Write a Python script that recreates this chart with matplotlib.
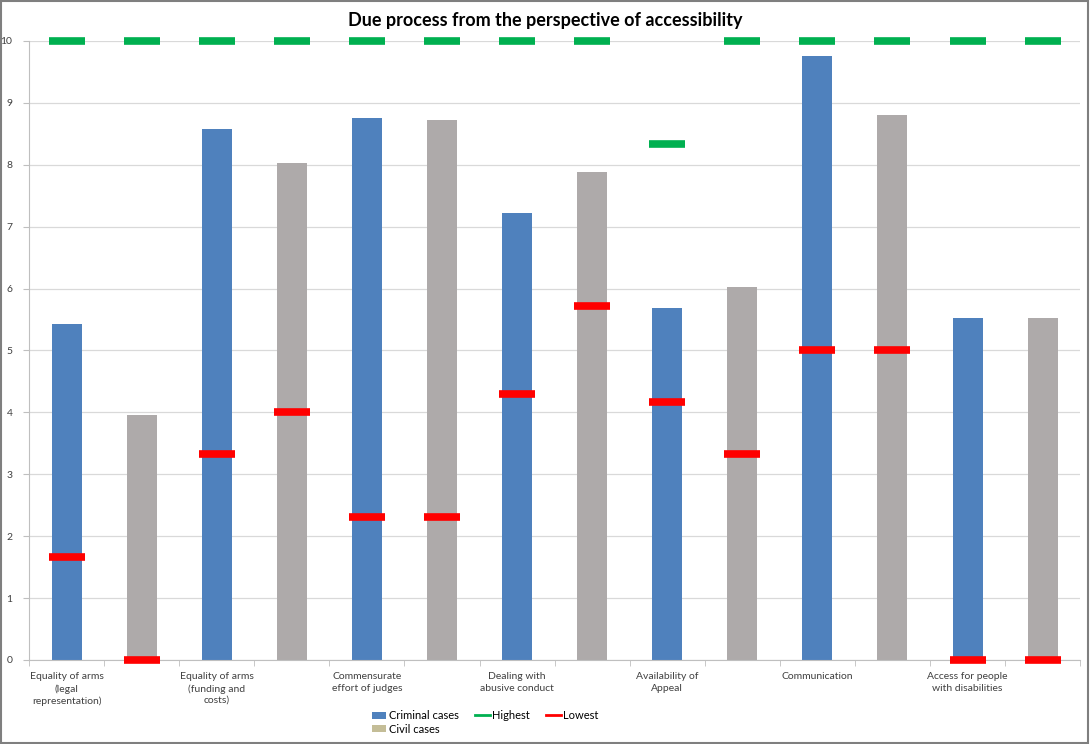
import matplotlib

matplotlib.use("Agg")

import matplotlib.pyplot as plt
from matplotlib.lines import Line2D
from matplotlib.patches import Patch, Rectangle


CATEGORIES = [
    "Equality of arms\n(legal\nrepresentation)",
    "Equality of arms\n(funding and\ncosts)",
    "Commensurate\neffort of judges",
    "Dealing with\nabusive conduct",
    "Availability of\nAppeal",
    "Communication",
    "Access for people\nwith disabilities",
]

CRIMINAL = [5.42, 8.58, 8.76, 7.22, 5.68, 9.76, 5.53]
CIVIL = [3.96, 8.03, 8.73, 7.89, 6.03, 8.81, 5.53]

# highest / lowest per slot, criminal then civil for each category
HIGHEST = [10, 10, 10, 10, 10, 10, 10, 10, 8.33, 10, 10, 10, 10, 10]
LOWEST = [1.67, 0, 3.33, 4.0, 2.31, 2.31, 4.29, 5.71, 4.17, 3.33, 5.0, 5.0, 0, 0]

BLUE = "#4f81bd"
GREY = "#aeaaaa"
GREEN = "#00b050"
RED = "#ff0000"


def main():
    plt.rcParams["font.family"] = ["Lato", "DejaVu Sans"]

    fig = plt.figure(figsize=(10.9, 7.44), dpi=100)
    ax = fig.add_axes([0.0266, 0.113, 0.9644, 0.832])

    n = len(CATEGORIES)
    crim_x = [2 * i for i in range(n)]
    civ_x = [2 * i + 1 for i in range(n)]
    slots = list(range(2 * n))

    ax.bar(crim_x, CRIMINAL, width=0.4, color=BLUE, zorder=2)
    ax.bar(civ_x, CIVIL, width=0.4, color=GREY, zorder=2)

    ax.plot(slots, HIGHEST, linestyle="none", marker="_", markersize=26,
            markeredgewidth=5.5, color=GREEN, zorder=3, clip_on=False)
    ax.plot(slots, LOWEST, linestyle="none", marker="_", markersize=26,
            markeredgewidth=5.5, color=RED, zorder=3, clip_on=False)

    ax.set_xlim(-0.5, 2 * n - 0.5)
    ax.set_ylim(0, 10)
    ax.set_yticks(range(0, 11))
    ax.tick_params(axis="y", length=4, labelsize=7.5, pad=8,
                   labelcolor="#404040", color="#bfbfbf")

    ax.set_xticks(crim_x)
    ax.set_xticklabels(CATEGORIES, fontsize=7.5, color="#404040", linespacing=1.35)
    ax.tick_params(axis="x", length=0, pad=9)
    ax.set_xticks([s - 0.5 for s in slots] + [2 * n - 0.5], minor=True)
    ax.tick_params(axis="x", which="minor", length=4, color="#bfbfbf")

    ax.grid(axis="y", color="#d9d9d9", linewidth=0.9, zorder=0)
    ax.set_axisbelow(True)
    for side in ("top", "right"):
        ax.spines[side].set_visible(False)
    for side in ("left", "bottom"):
        ax.spines[side].set_color("#bfbfbf")

    fig.text(0.5, 0.973, "Due process from the perspective of accessibility",
             ha="center", va="center", fontsize=13, fontweight="bold")

    handles = [
        Patch(facecolor=BLUE, label="Criminal cases"),
        Patch(facecolor="#c4bd97", label="Civil cases"),
        Line2D([], [], color=GREEN, lw=2, label="Highest"),
        Line2D([], [], color=RED, lw=2, label="Lowest"),
    ]
    fig.legend(handles=handles, ncol=3, loc="center", bbox_to_anchor=(0.445, 0.029),
               frameon=False, fontsize=8, handlelength=1.3, handleheight=0.6,
               handletextpad=0.2, columnspacing=1.5, labelspacing=0.25)

    fig.patches.append(Rectangle((0.001, 0.002), 0.997, 0.996, transform=fig.transFigure,
                                 fill=False, edgecolor="#7f7f7f", linewidth=1.5))

    fig.savefig("out.png", dpi=100)


if __name__ == "__main__":
    main()
